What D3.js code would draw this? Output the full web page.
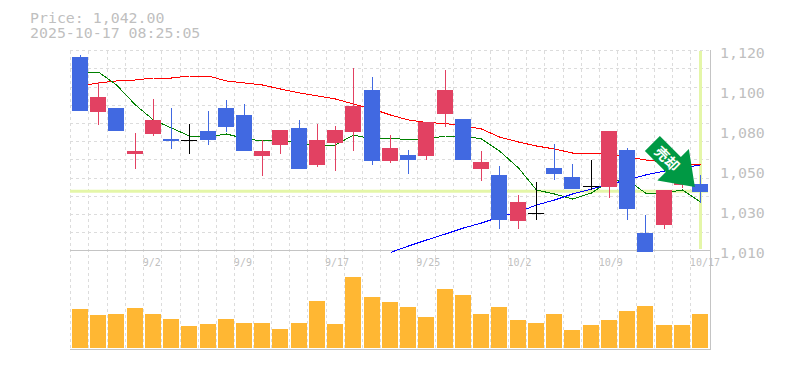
<!DOCTYPE html>
<html><head><meta charset="utf-8">
<style>
html,body{margin:0;padding:0;background:#fff}
svg{display:block}
text{font-family:"DejaVu Sans Mono",monospace;fill:#bfbfbf}
</style>
<script src="https://cdnjs.cloudflare.com/ajax/libs/d3/7.8.5/d3.min.js"></script>
</head><body><svg id="c" width="785" height="370"></svg>
<script>
const dates=["8/27","8/28","8/29","9/1","9/2","9/3","9/4","9/5","9/8","9/9","9/10","9/11","9/12","9/16","9/17","9/18","9/19","9/22","9/24","9/25","9/26","9/29","9/30","10/1","10/2","10/3","10/6","10/7","10/8","10/9","10/10","10/14","10/15","10/16","10/17"];
const labelDates=["9/2","9/9","9/17","9/25","10/2","10/9","10/17"];
const open=[1117.8,1087.55,1089.75,1064.45,1075.45,1072.7,1072,1077.1,1089.75,1085.9,1063.35,1069.4,1078.75,1058.4,1070.5,1076.55,1099.65,1060.6,1063.9,1063.35,1086.45,1083.7,1056.2,1052.9,1027.6,1031.8,1056.75,1051.8,1046.7,1046.3,1066.65,1021,1025.4,1047.4,1047.95];
const close=[1088.1,1095.8,1077.1,1066.1,1083.15,1071.6,1072,1072.15,1079.3,1066.1,1066.1,1077.65,1056.2,1072.15,1077.65,1090.85,1060.6,1067.75,1061.15,1082.05,1099.65,1061.15,1060.05,1028.15,1038.05,1031.8,1053.45,1045.2,1046.7,1077.1,1034.2,1010.55,1044.65,1058.4,1043.55];
const high=[1118.9,1104.05,1089.75,1076,1094.7,1089.75,1080.95,1088.1,1094.15,1091.95,1072.15,1077.65,1083.15,1080.95,1079.85,1111.75,1106.8,1074.9,1066.65,1082.05,1110.65,1083.7,1066.1,1057.85,1041.9,1049.05,1069.95,1058.95,1061.15,1077.1,1067.75,1030.9,1044.65,1058.4,1052.9];
const low=[1088.1,1080.4,1077.1,1056.2,1074.35,1067.2,1064.45,1069.4,1076.55,1066.1,1052.35,1064.45,1056.2,1057.3,1055.1,1066.1,1058.4,1059.5,1053.45,1061.15,1079.3,1061.15,1049.6,1023.2,1023.2,1028.15,1050.15,1045.2,1044.65,1040.25,1028.15,1010.55,1023.2,1045.75,1037.65];
const volume=[39,33,34,40,34,29,22,24,29,25,25,19,25,47,24,71,51,46,41,31,59,53,34,41,28,25,34,18,23,28,37,42,23,23,34];
const maRed=[1101.85,1103.5,1104.6,1105.15,1106.25,1106.25,1107.35,1107.35,1104.6,1103.5,1102.4,1100.2,1098,1096.35,1094.7,1091.95,1089.2,1085.9,1083.15,1081.8,1081.2,1079.85,1078.2,1073.8,1071.05,1068.85,1067.2,1065,1065,1064.45,1062.8,1061.15,1060.05,1058.95,1058.4];
const maGreen=[1109.55,1109.55,1102.4,1091.4,1083.15,1078.75,1074.35,1073.8,1075.45,1072.97,1071.6,1071.9,1070.5,1068.85,1069.4,1074.9,1072.7,1073.25,1072.15,1072.7,1074.35,1074.35,1072.7,1066.1,1056.75,1044.65,1042.45,1039.7,1043,1049.6,1050.15,1043,1043,1044.65,1038.05];
const maBlue=[1010.3,1013.85,1017.15,1020.45,1023.75,1026.5,1029.8,1032.55,1036.4,1039.15,1042.45,1045.2,1047.95,1050.15,1052.9,1055.1,1056.75,1058.4];
const priceTicks=[1120,1098,1076,1054,1032,1010];
const lastLevel=1043.9;
const titleLines=["Price: 1,042.00","2025-10-17 08:25:05"];
const sellLabel="売却";

const BLUE="#4169e1",RED="#e24162",GRID="#dcdcdc",AXIS="#c4c4c4",LEVEL="#e4f6a8";
const svg=d3.select("#c");
const x=d3.scaleBand().domain(dates).range([70.7,709.1]);
const y=d3.scaleLinear().domain([1010,1120]).range([253,53]);
const v=d3.scaleLinear().domain([0,100]).range([348,248]);
const mid=d=>Math.round(x(d)+x.bandwidth()/2);
const cx=d=>mid(d)+0.5;
const crisp=n=>Math.round(n);

// grid
const gridRows=d3.scaleLinear().domain([0,11]).range([50.7,250.9]);
svg.append("g").selectAll("line").data(d3.range(0,11)).join("line")
 .attr("x1",70).attr("x2",710).attr("y1",i=>Math.floor(gridRows(i))+0.5).attr("y2",i=>Math.floor(gridRows(i))+0.5)
 .attr("stroke",GRID).attr("stroke-dasharray","3,3");
svg.append("g").selectAll("line").data(dates).join("line")
 .attr("x1",d=>Math.floor(x(d))+0.5).attr("x2",d=>Math.floor(x(d))+0.5).attr("y1",51).attr("y2",350)
 .attr("stroke",GRID).attr("stroke-dasharray","3,3");

// frame
svg.append("g").attr("shape-rendering","crispEdges").selectAll("path").data([
 "M70,250.5H710.5","M70,349.5H710.5","M710.5,50V350"]).join("path").attr("d",d=>d).attr("stroke",AXIS).attr("fill","none");

// level lines
svg.append("line").attr("x1",70).attr("x2",708).attr("y1",y(lastLevel)).attr("y2",y(lastLevel)).attr("stroke",LEVEL).attr("stroke-width",3);
svg.append("line").attr("x1",cx("10/17")).attr("x2",cx("10/17")).attr("y1",51).attr("y2",249).attr("stroke",LEVEL).attr("stroke-width",3);

// moving averages
svg.append("clipPath").attr("id","pc").append("rect").attr("x",70).attr("y",50).attr("width",640).attr("height",203);
const line=d3.line().x(d=>cx(d[0])).y(d=>y(d[1]));
const mas=[[maRed,dates,"#ff0000"],[maGreen,dates,"#008000"],[maBlue,dates.slice(17),"#0000ff"]];
svg.append("g").attr("clip-path","url(#pc)").selectAll("path").data(mas).join("path")
 .attr("d",m=>line(m[0].map((val,i)=>[m[1][i],val])))
 .attr("fill","none").attr("stroke",m=>m[2]).attr("stroke-width",1).attr("shape-rendering","crispEdges");

// candles
const idx=d3.range(dates.length);
const col=i=>close[i]>open[i]?RED:close[i]<open[i]?BLUE:"#000";
const g=svg.append("g").attr("shape-rendering","crispEdges");
g.selectAll("line").data(idx).join("line")
 .attr("x1",i=>cx(dates[i])).attr("x2",i=>cx(dates[i]))
 .attr("y1",i=>crisp(y(high[i]))).attr("y2",i=>crisp(y(low[i])))
 .attr("stroke",col);
g.selectAll("rect").data(idx).join("rect")
 .attr("x",i=>mid(dates[i])-8)
 .attr("width",16)
 .attr("y",i=>crisp(y(Math.max(open[i],close[i]))))
 .attr("height",i=>Math.max(1,crisp(y(Math.min(open[i],close[i])))-crisp(y(Math.max(open[i],close[i])))))
 .attr("fill",col);

// volume
svg.append("g").attr("shape-rendering","crispEdges").selectAll("rect").data(idx).join("rect")
 .attr("x",i=>mid(dates[i])-8).attr("width",16)
 .attr("y",i=>v(volume[i])).attr("height",i=>v(0)-v(volume[i])).attr("fill","#ffb733");

// sell arrow anchored on the last candle region
const ax=x("10/17"),ay=y(1041.35);
const arrow=svg.append("g").attr("transform",`translate(${ax},${ay})`);
const pts=[[4,-9],[-2,-47],[-10,-39],[-31,-60],[-46,-45],[-25,-24],[-33.5,-15.5]];
arrow.append("polygon").attr("points",pts.map(p=>p.join(",")).join(" ")).attr("fill","#009944");
arrow.append("text").attr("transform","translate(-24,-37) rotate(45)").attr("text-anchor","middle").attr("dy","0.35em")
 .style("font-family",'"Noto Sans CJK JP"').style("font-weight",700).style("font-size","14px").style("fill","#fff").text(sellLabel);

// texts
svg.append("g").selectAll("text").data(titleLines).join("text")
 .attr("x",30).attr("y",(d,i)=>23+i*15).style("font-size","14.9px").text(d=>d);
const yAxis=d3.axisRight(y).tickValues(priceTicks).tickSize(0).tickPadding(0)
 .tickFormat(d=>d3.format(",")(Math.round(d/10)*10));
const ya=svg.append("g").attr("transform","translate(720,0)").call(yAxis);
ya.select(".domain").remove();
ya.selectAll("text").style("font-size","14.9px").style("fill","#bfbfbf").style("font-family",'"DejaVu Sans Mono",monospace');
svg.append("g").selectAll("text").data(labelDates).join("text")
 .attr("x",d=>x(d)-1).attr("y",266).style("font-size","10px").text(d=>d);
</script></body></html>
